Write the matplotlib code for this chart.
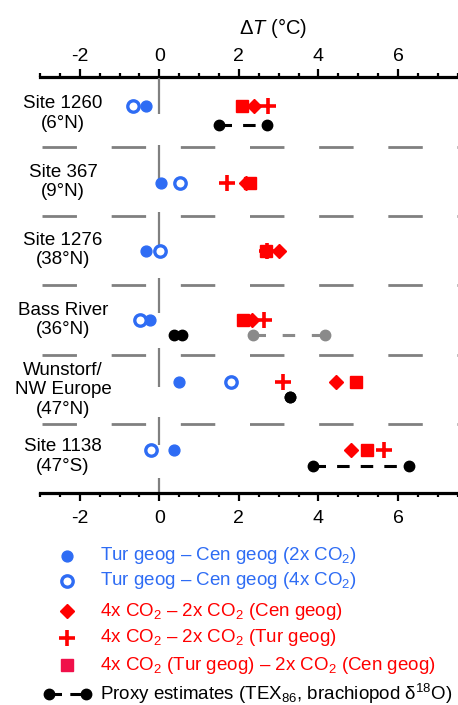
import numpy as np
import matplotlib
matplotlib.use("Agg")
import matplotlib.pyplot as plt

plt.rcParams['font.family'] = ['Liberation Sans', 'DejaVu Sans']
plt.rcParams['mathtext.fontset'] = 'custom'
plt.rcParams['mathtext.rm'] = 'Liberation Sans'
plt.rcParams['mathtext.it'] = 'Liberation Sans:italic'
plt.rcParams['axes.unicode_minus'] = False
plt.rcParams['lines.scale_dashes'] = False

# data (delta T, deg C), sites top to bottom
sites = ['Site 1260\n(6°N)', 'Site 367\n(9°N)', 'Site 1276\n(38°N)',
         'Bass River\n(36°N)', 'Wunstorf/\nNW Europe\n(47°N)', 'Site 1138\n(47°S)']
tur_cen_2x = [-0.33, 0.04, -0.34, -0.23, 0.50, 0.36]
tur_cen_4x = [-0.67, 0.53, 0.01, -0.48, 1.81, -0.20]
co2_cen = [2.38, 2.18, 3.02, 2.33, 4.43, 4.81]
co2_tur = [2.73, 1.70, 2.70, 2.62, 3.11, 5.65]
co2_tur_cen = [2.07, 2.28, 2.68, 2.10, 4.94, 5.21]
proxy_lo = [1.49, None, None, 0.36, 3.29, 3.86]
proxy_hi = [2.71, None, None, 0.57, 3.29, 6.28]
proxy2_lo = [None, None, None, 2.35, None, None]   # grey estimate, Bass River
proxy2_hi = [None, None, None, 4.17, None, None]

# layout (row positions in axis units, 0 = top)
model_y = [0.41, 1.52, 2.51, 3.50, 4.40, 5.38]
proxy_y = [0.69, 1.75, 2.75, 3.72, 4.61, 5.61]
label_y = [0.52, 1.51, 2.49, 3.50, 4.51, 5.47]

blue = '#2e6cf4'
red = '#ff0000'
grey = '#808080'

fig = plt.figure(figsize=(4.58, 7.05), dpi=100)
ax = fig.add_axes([40/458, 1 - 493/705, 1 - 40/458, (493 - 77.5)/705])
ax.set_xlim(-3, 7.51)
ax.set_ylim(6, 0)

# separators and zero line
for k in range(1, 6):
    ax.plot([-2.94, 7.6], [k, k], color=grey, lw=2.0, dashes=(24.8, 25.0),
            dash_capstyle='butt', zorder=1)
zero_segs = [(0.0, 0.53), (0.97, 1.52), (1.94, 2.44), (2.89, 3.40),
             (3.91, 4.47), (4.90, 5.31), (5.78, 6.0)]
for a, b in zero_segs:
    ax.plot([0, 0], [a, b], color=grey, lw=1.6, solid_capstyle='butt', zorder=1)

for i in range(len(sites)):
    ax.text(-2.42, label_y[i], sites[i], ha='center', va='center',
            multialignment='center', fontsize=13.5)
    if proxy_lo[i] is not None:
        ax.plot([proxy_lo[i], proxy_hi[i]], [proxy_y[i]] * 2, color='black',
                lw=2.2, dashes=(9, 8), marker='o', ms=7.5, zorder=3)
    if proxy2_lo[i] is not None:
        ax.plot([proxy2_lo[i], proxy2_hi[i]], [proxy_y[i]] * 2, color='#8a8a8a',
                lw=2.2, dashes=(9, 12), marker='o', ms=7.5, zorder=3)

ax.plot(tur_cen_2x, model_y, 'o', color=blue, ms=7.8, ls='none', zorder=4)
ax.plot(tur_cen_4x, model_y, 'o', mfc='white', mec=blue, mew=2.4, ms=8.2,
        ls='none', zorder=4)
ax.plot(co2_tur, model_y, '+', color=red, ms=11, mew=2.6, ls='none', zorder=4)
ax.plot(co2_tur_cen, model_y, 's', color=red, ms=8, ls='none', zorder=5)
ax.plot(co2_cen, model_y, 'D', color=red, ms=7.5, ls='none', zorder=6)

major = [-2, 0, 2, 4, 6]
minor = np.arange(-3, 7.6, 0.5)

for s in ['left', 'right', 'top']:
    ax.spines[s].set_visible(False)
ax.spines['bottom'].set_linewidth(2.3)
ax.set_xticks(major)
ax.set_xticks(minor, minor=True)
ax.set_yticks([])
ax.tick_params(axis='x', which='both', direction='out', width=1.6, labelsize=14)
ax.tick_params(axis='x', which='major', length=6, pad=6)
ax.tick_params(axis='x', which='minor', length=3)

top = ax.secondary_xaxis('top')
top.spines['top'].set_linewidth(2.3)
top.set_xticks(major)
top.set_xticks(minor, minor=True)
top.tick_params(axis='x', which='both', direction='out', width=1.6, labelsize=14)
top.tick_params(axis='x', which='major', length=6, pad=3.2)
top.tick_params(axis='x', which='minor', length=3)

fig.text(273/458, 1 - 27.5/705, r'Δ$T$ (°C)', ha='center', va='center', fontsize=14.5)

# legend, drawn by hand below the axes
lax = fig.add_axes([0, 0, 1, 1], zorder=-1)
lax.set_xlim(0, 458)
lax.set_ylim(705, 0)
lax.axis('off')
lax.plot([67], [556], 'o', color=blue, ms=7.8)
lax.plot([67], [580.5], 'o', mfc='white', mec=blue, mew=2.4, ms=8.2)
lax.plot([67], [611], 'D', color=red, ms=7.5)
lax.plot([67], [638], '+', color=red, ms=11, mew=2.6)
lax.plot([67], [665], 's', color='#f0104a', ms=8)
lax.plot([49, 86], [694, 694], color='black', lw=2.2, dashes=(9, 6))
lax.plot([49, 86], [694, 694], 'o', color='black', ms=7.5, ls='none')
leg_txt = [
    (556, 'Tur geog – Cen geog (2x CO$_2$)', blue),
    (580.5, 'Tur geog – Cen geog (4x CO$_2$)', blue),
    (611, '4x CO$_2$ – 2x CO$_2$ (Cen geog)', red),
    (638, '4x CO$_2$ – 2x CO$_2$ (Tur geog)', red),
    (665, '4x CO$_2$ (Tur geog) – 2x CO$_2$ (Cen geog)', red),
    (694, 'Proxy estimates (TEX$_{86}$, brachiopod δ$^{18}$O)', 'black'),
]
for y, t, c in leg_txt:
    lax.text(100, y, t, color=c, fontsize=13.5, ha='left', va='center')

fig.savefig('out.png', dpi=100)
